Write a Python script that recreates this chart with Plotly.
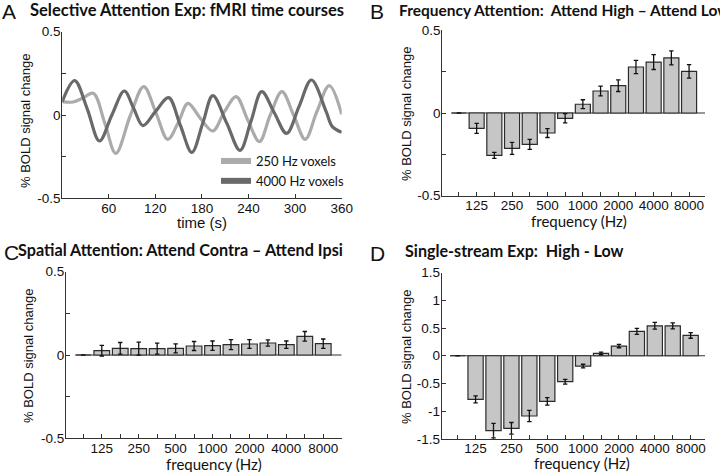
import plotly.graph_objects as go
from plotly.subplots import make_subplots

W, H = 720, 472

# ---------------- data ----------------
# Panel A: fMRI time courses (seconds / % BOLD)
time_250 = [0, 14, 26, 40, 55, 69, 88, 105, 121, 136, 150, 162, 178, 194, 209, 224, 239, 254, 268, 283, 298, 313, 328, 344, 360]
bold_250 = [0.08, 0.078, 0.1, 0.13, -0.05, -0.23, 0.0, 0.17, 0.01, -0.146, -0.04, 0.07, -0.02, -0.096, 0.02, 0.11, -0.03, -0.16, 0.0, 0.14, 0.0, -0.146, 0.02, 0.176, 0.004]

time_4000 = [0, 16, 32, 48, 64, 80, 92, 104, 120, 137, 152, 167, 181, 194, 212, 229, 243, 257, 273, 289, 305, 321, 340, 348, 360]
bold_4000 = [0.08, 0.206, 0.04, -0.156, 0.0, 0.144, 0.04, -0.064, 0.02, 0.104, -0.06, -0.224, -0.05, 0.116, -0.05, -0.212, -0.04, 0.14, 0.015, -0.11, 0.05, 0.21, 0.02, -0.07, -0.104]

time_ticks = [60, 120, 180, 240, 300, 360]

# Frequency bins (Hz) and tick labels for bar panels
freq_bins = [88, 125, 177, 250, 354, 500, 707, 1000, 1414, 2000, 2828, 4000, 5657, 8000]
freq_tick_text = ["", "125", "", "250", "", "500", "", "1000", "", "2000", "", "4000", "", "8000"]

# Panel B: Frequency attention (Attend High - Attend Low)
freq_att = [0.0, -0.093, -0.256, -0.214, -0.19, -0.121, -0.032, 0.053, 0.133, 0.165, 0.278, 0.308, 0.333, 0.252]
freq_att_err = [0, 0.03, 0.018, 0.036, 0.03, 0.027, 0.028, 0.027, 0.03, 0.035, 0.04, 0.045, 0.042, 0.041]

# Panel C: Spatial attention (Attend Contra - Attend Ipsi)
spatial_att = [0.0, 0.026, 0.04, 0.038, 0.038, 0.04, 0.054, 0.056, 0.062, 0.066, 0.072, 0.062, 0.112, 0.068]
spatial_att_err = [0, 0.032, 0.035, 0.039, 0.033, 0.027, 0.027, 0.028, 0.03, 0.026, 0.019, 0.022, 0.029, 0.028]

# Panel D: Single-stream experiment (High - Low)
single_stream = [0.0, -0.786, -1.35, -1.308, -1.086, -0.822, -0.468, -0.186, 0.042, 0.174, 0.438, 0.54, 0.54, 0.366]
single_stream_err = [0, 0.063, 0.13, 0.105, 0.1, 0.069, 0.042, 0.033, 0.024, 0.03, 0.054, 0.06, 0.054, 0.051]

# ---------------- style ----------------
LIGHT = "#ababab"
DARK = "#696969"
BAR_FILL = "#c6c6c6"
EDGE = "#2b2b2b"
AXC = "#333333"
BAR_W = 0.85
ARIAL = "Liberation Sans, Arial, sans-serif"
CAL = "Lato, Calibri, sans-serif"


def px(xp):
    return xp / W


def py(yp):
    return 1 - yp / H


fig = make_subplots(rows=2, cols=2)

positions = list(range(len(freq_bins)))

# Panel A lines
fig.add_trace(go.Scatter(x=time_250, y=bold_250, mode="lines", line=dict(color=LIGHT, width=3.2, shape="spline", smoothing=1.0),
                         name="250 Hz voxels", showlegend=False), row=1, col=1)
fig.add_trace(go.Scatter(x=time_4000, y=bold_4000, mode="lines", line=dict(color=DARK, width=3.2, shape="spline", smoothing=1.0),
                         name="4000 Hz voxels", showlegend=False), row=1, col=1)
# legend entries (patch-like thick lines)
fig.add_trace(go.Scatter(x=[None], y=[None], mode="lines", line=dict(color=LIGHT, width=6), name="250 Hz voxels"), row=1, col=1)
fig.add_trace(go.Scatter(x=[None], y=[None], mode="lines", line=dict(color=DARK, width=6), name="4000 Hz voxels"), row=1, col=1)


def add_bars(vals, errs, row, col):
    fig.add_trace(go.Bar(
        x=positions, y=vals, width=BAR_W,
        marker=dict(color=BAR_FILL, line=dict(color=EDGE, width=1.2)),
        error_y=dict(type="data", array=errs, visible=True, color="#111111", thickness=1.3, width=2.2),
        showlegend=False), row=row, col=col)


add_bars(freq_att, freq_att_err, 1, 2)
add_bars(spatial_att, spatial_att_err, 2, 1)
add_bars(single_stream, single_stream_err, 2, 2)

common = dict(showline=True, linecolor=AXC, linewidth=1, ticks="inside", ticklen=4, tickcolor=AXC, automargin=False,
              showgrid=False, zeroline=False, tickfont=dict(family=ARIAL, size=13.5, color="#111"))
xcommon = dict(ticklabelstandoff=-3, **common)
ycommon = dict(ticklabelstandoff=-2, **common)

# Axes: domains from picture
fig.update_layout(
    xaxis=dict(domain=[px(62.2), px(341.7)], range=[0, 360], tickvals=time_ticks, **xcommon),
    yaxis=dict(domain=[py(198.3), py(31.7)], range=[-0.5, 0.5], tickvals=[-0.5, -0.25, 0, 0.25, 0.5],
               ticktext=["-0.5", "", "0", "", "0.5"], **ycommon),
    xaxis2=dict(domain=[px(442.3), px(705)], range=[-0.94, 13.9], tickvals=positions, ticktext=freq_tick_text, **xcommon),
    yaxis2=dict(domain=[py(195.7), py(30.3)], range=[-0.5, 0.5], tickvals=[-0.5, -0.25, 0, 0.25, 0.5],
                ticktext=["-0.5", "", "0", "", "0.5"], **ycommon),
    xaxis3=dict(domain=[px(66), px(341.7)], range=[-0.94, 14.0], tickvals=positions, ticktext=freq_tick_text, **xcommon),
    yaxis3=dict(domain=[py(438.3), py(271.7)], range=[-0.5, 0.5], tickvals=[-0.5, -0.25, 0, 0.25, 0.5],
                ticktext=["-0.5", "", "0", "", "0.5"], **ycommon),
    xaxis4=dict(domain=[px(441.7), px(705)], range=[-0.89, 13.8], tickvals=positions, ticktext=freq_tick_text, **xcommon),
    yaxis4=dict(domain=[py(439), py(272.5)], range=[-1.5, 1.5], tickvals=[-1.5, -1, -0.5, 0, 0.5, 1, 1.5],
                ticktext=["-1.5", "-1", "-0.5", "0", "0.5", "1", "1.5"], **ycommon),
)

# baselines at zero for bar panels (from first bar's left edge to axis end)
for xa, ya, xr in [("x2", "y2", 13.9), ("x3", "y3", 14.0), ("x4", "y4", 13.8)]:
    fig.add_shape(type="line", xref=xa, yref=ya, x0=positions[0] - BAR_W / 2, x1=xr, y0=0, y1=0,
                  line=dict(color=AXC, width=1), layer="below")

ann = []
# panel letters
for letter, xx, yy in [("A", 0, 11), ("B", 368, 11.5), ("C", 1.5, 252.5), ("D", 368, 253.5)]:
    ann.append(dict(text=letter, x=px(xx), y=py(yy), xref="paper", yref="paper", xanchor="left", yanchor="middle",
                    showarrow=False, font=dict(family=ARIAL, size=21, color="#111")))
# panel titles
for t, xx, yy, fs in [("Selective Attention Exp: fMRI time courses", 28, 9.5, 16.5),
                      ("Frequency Attention:  Attend High \u2013 Attend Low", 396.7, 10, 15.5),
                      ("Spatial Attention: Attend Contra \u2013 Attend Ipsi", 16, 249, 16.2),
                      ("Single-stream Exp:  High - Low", 403, 250, 16.1)]:
    ann.append(dict(text="<b>%s</b>" % t, x=px(xx), y=py(yy), xref="paper", yref="paper", xanchor="left", yanchor="middle",
                    showarrow=False, font=dict(family=CAL, size=fs, color="#111")))
# y-axis titles
for xx, yy in [(26, 121), (406, 114), (28, 356), (406, 357)]:
    ann.append(dict(text="% BOLD signal change", x=px(xx), y=py(yy), xref="paper", yref="paper", xanchor="center",
                    yanchor="middle", textangle=-90, showarrow=False, font=dict(family=ARIAL, size=13, color="#111")))
# x-axis titles
ann.append(dict(text="time (s)", x=px(202), y=py(222), xref="paper", yref="paper", xanchor="center", yanchor="middle",
                showarrow=False, font=dict(family=ARIAL, size=15, color="#111")))
for xx, yy in [(579, 221), (214, 464), (582, 463)]:
    ann.append(dict(text="frequency (Hz)", x=px(xx), y=py(yy), xref="paper", yref="paper", xanchor="center",
                    yanchor="middle", showarrow=False, font=dict(family=CAL, size=15, color="#111")))

fig.update_layout(
    width=W, height=H, autosize=False,
    margin=dict(l=0, r=0, t=0, b=0, autoexpand=False),
    paper_bgcolor="white", plot_bgcolor="white",
    annotations=ann,
    legend=dict(x=px(216), y=py(146), xanchor="left", yanchor="top", bgcolor="rgba(0,0,0,0)",
                font=dict(family=CAL, size=13, color="#111"), tracegroupgap=0, itemwidth=30),
)

fig.write_html("out.html",
               post_script="document.documentElement.style.overflow='hidden';document.body.style.margin='0px';document.body.style.overflow='hidden';",
               config={"displayModeBar": False})
